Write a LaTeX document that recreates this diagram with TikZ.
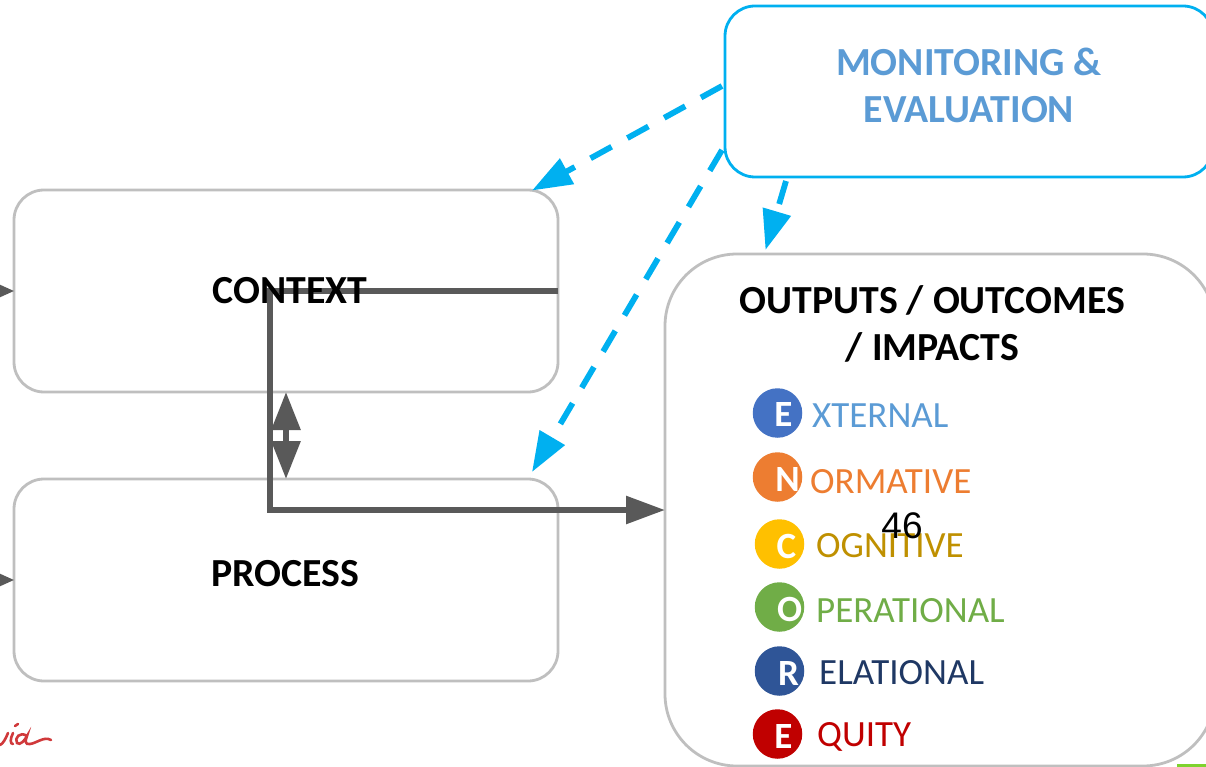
\documentclass[tikz,border=0pt]{standalone}
\usepackage{fontspec}
\setmainfont{Carlito}
\newfontfamily\numfont{Liberation Sans}
\usetikzlibrary{arrows.meta}
\definecolor{boxgray}{HTML}{BFBFBF}
\definecolor{linegray}{HTML}{595959}
\definecolor{monblue}{HTML}{00B0F0}
\definecolor{headblue}{HTML}{5B9BD5}
\definecolor{extblue}{HTML}{4472C4}
\definecolor{normorange}{HTML}{ED7D31}
\definecolor{coggold}{HTML}{FFC000}
\definecolor{cogtext}{HTML}{BF9000}
\definecolor{opgreen}{HTML}{70AD47}
\definecolor{relblue}{HTML}{2F5597}
\definecolor{reltext}{HTML}{1F3864}
\definecolor{eqred}{HTML}{C00000}
\definecolor{logored}{HTML}{D0393B}
\definecolor{bargreen}{HTML}{7ED32F}
\tikzset{
  stagebox/.style = {draw=boxgray, line width=2.8pt, rounded corners=30pt, fill=white, inner sep=0pt, outer sep=0pt},
  stagetext/.style = {font=\fontsize{39.8}{47}\selectfont\bfseries, align=center, inner sep=0pt},
  flowline/.style = {draw=linegray, line width=5.8pt, line join=miter},
  flowtip/.style = {-{Triangle[length=39pt, width=27pt]}},
  stubline/.style = {draw=linegray, line width=2pt, -{Triangle[length=14pt, width=12pt]}},
  monline/.style = {draw=monblue, line width=5.8pt, dash pattern=on 24pt off 18pt,
    -{Triangle[length=40pt, width=28pt]}},
  dimball/.style = {circle, minimum size=49.5pt, inner sep=0pt},
  dimletter/.style = {text=white, font=\fontsize{37}{37}\selectfont\bfseries, inner sep=0pt, yshift=-2pt},
  dimword/.style = {anchor=base west, font=\fontsize{37}{37}\selectfont, inner sep=0pt},
}
\begin{document}
\begin{tikzpicture}[x=1pt, y=-1pt]
  \useasboundingbox (0,0) rectangle (1206,767);
  \clip (0,0) rectangle (1206,767);

  % Boxes
  \node[stagebox, minimum width=544pt, minimum height=202pt] (context) at (286,291) {};
  \node[stagebox, minimum width=544pt, minimum height=202pt] (process) at (286,580) {};
  \node[stagebox, rounded corners=72pt, minimum width=550pt, minimum height=512pt] (outputs) at (940,510) {};
  \node[stagebox, draw=monblue, minimum width=488pt, minimum height=171pt] (monitoring) at (969,91.5) {};

  % Stubs coming in from the left
  \coordinate (contextin) at (0,291);
  \coordinate (processin) at (0,580);
  \draw[stubline] (contextin) -- (context.west);
  \draw[stubline] (processin) -- (process.west);

  % Context to outputs
  \coordinate (flowtop) at (270,291);
  \coordinate (flowbot) at (270,510);
  \draw[flowline, flowtip] (context.east) -- (flowtop) -- (flowbot) -- (outputs.west);
  \draw[draw=linegray, line width=6pt, {Triangle[length=38pt, width=28pt]}-{Triangle[length=38pt, width=28pt]}]
    (context.south) -- (process.north);

  % Monitoring arrows
  \coordinate (monctxstart) at (722,86);
  \coordinate (monctxend) at (532,190.5);
  \coordinate (monprcstart) at (722,150);
  \coordinate (monprcend) at (532,472);
  \coordinate (monoutstart) at (786,181);
  \coordinate (monoutend) at (765.5,250);
  \draw[monline] (monctxstart) -- (monctxend);
  \draw[monline] (monprcstart) -- (monprcend);
  \draw[monline] (monoutstart) -- (monoutend);

  % Labels
  \node[stagetext] (contextlabel) at (290,290.5) {CONTEXT};
  \node[stagetext] (processlabel) at (285,574) {PROCESS};
  \node[stagetext, text=headblue] (monitoringlabel) at (969,85.5) {MONITORING \&\\EVALUATION};
  \node[stagetext] (outputslabel) at (932.5,324) {OUTPUTS / OUTCOMES\\/ IMPACTS};

  % EXTERNAL ... EQUITY
  \node[dimball, fill=extblue, label={[dimletter, xshift=6pt]center:E}] (ballext) at (777.5,413) {};
  \node[dimball, fill=normorange, label={[dimletter, xshift=10pt]center:N}] (ballnorm) at (777.5,477) {};
  \node[dimball, fill=coggold, label={[dimletter, xshift=7pt]center:C}] (ballcog) at (779.5,544) {};
  \node[dimball, fill=opgreen, label={[dimletter, xshift=10pt]center:O}] (ballop) at (779.5,607) {};
  \node[dimball, fill=relblue, label={[dimletter, xshift=9pt]center:R}] (ballrel) at (779.5,671) {};
  \node[dimball, fill=eqred, label={[dimletter, xshift=6pt]center:E}] (balleq) at (777.5,734) {};

  \node[dimword, text=headblue] (wordext) at (812,427) {XTERNAL};
  \node[dimword, text=normorange] (wordnorm) at (810,493) {ORMATIVE};
  \node[dimword, text=cogtext] (wordcog) at (816,557) {OGNITIVE};
  \node[dimword, text=opgreen] (wordop) at (816,622) {PERATIONAL};
  \node[dimword, text=reltext] (wordrel) at (819,684) {ELATIONAL};
  \node[dimword, text=eqred] (wordeq) at (817,746) {QUITY};

  % Slide number
  \node[font=\numfont\fontsize{37}{37}\selectfont, inner sep=0pt, anchor=base] (slidenum) at (902,538) {46};

  % Bits of the slide at the edges
  \fill[bargreen] (1177,764) rectangle (1206,767);
  \draw[logored, line width=2.6pt, line cap=round]
    (0,745) .. controls (3,744) and (6,738) .. (8,733)
    (15,726) -- (18,724)
    (13,733) .. controls (10,739) and (10,744) .. (13,744)
    (27,736) .. controls (20,731) and (14,738) .. (17,743) .. controls (20,746) and (25,740) .. (27,736)
    .. controls (25,741) and (25,745) .. (30,744) .. controls (37,743) and (44,736) .. (51,740);
\end{tikzpicture}
\end{document}
